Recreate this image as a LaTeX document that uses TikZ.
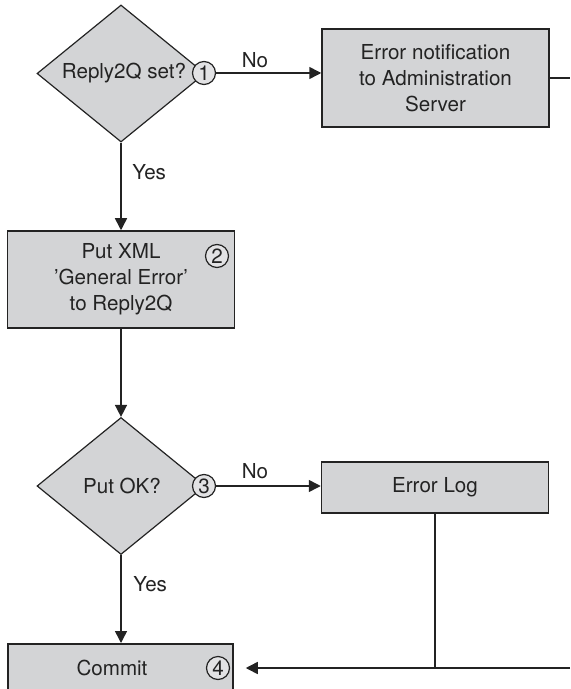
\documentclass[tikz,border=0pt]{standalone}
\usepackage{fontspec}
\setmainfont{TeX Gyre Heros}
\usetikzlibrary{shapes.geometric,arrows.meta,calc}
\definecolor{boxfill}{RGB}{211,212,214}
\definecolor{circfill}{RGB}{226,226,228}
\definecolor{ink}{RGB}{35,35,35}
\tikzset{
  every node/.style={font=\fontsize{10.3}{13}\selectfont, text=ink},
  stepbox/.style={draw=ink, line width=0.75pt, fill=boxfill, rectangle, inner sep=0pt, align=center},
  decision/.style={draw=ink, line width=0.6pt, fill=boxfill, diamond, inner sep=0pt, aspect=1.226, minimum width=84pt, minimum height=68.5pt},
  numcirc/.style={draw=ink, line width=0.6pt, fill=circfill, circle, inner sep=0pt, minimum size=11.5pt},
  conn/.style={draw=ink, line width=0.75pt},
  arr/.style={conn, -{Triangle[length=6pt,width=6pt]}},
  lbl/.style={inner sep=0pt}
}
\begin{document}
\begin{tikzpicture}[x=0.5pt,y=-0.5pt]
\useasboundingbox (0,0) rectangle (570,689);
\begin{scope}
\clip (0,0) rectangle (570,689);
% nodes
\node[decision] (d1) at (121,73.5) {};
\node at (124,73) (t1) {Reply2Q set?};
\node[numcirc] (c1) at (204,73) {1};
\node[stepbox, minimum width=113.5pt, minimum height=49pt] (b1) at (435.5,78) {Error notification\\to Administration\\Server};
\node[stepbox, minimum width=113.5pt, minimum height=48.5pt] (b2) at (121,279.5) {Put XML\\'General Error'\\to Reply2Q};
\node[numcirc] (c2) at (217,256) {2};
\node[decision] (d2) at (121,486) {};
\node at (122,486) (t2) {Put OK?};
\node[numcirc] (c3) at (204,486) {3};
\node[stepbox, minimum width=113.5pt, minimum height=25.5pt] (b3) at (435,487.5) {Error Log};
\node[stepbox, minimum width=112.5pt, minimum height=25pt, anchor=north] (b4) at (120.5,643) {};
\node at (112,668) (t4) {Commit};
\node[numcirc] (c4) at (218,668) {4};
% coordinates
\coordinate (r1) at (570,78);
\coordinate (r2) at (570,668);
\coordinate (j) at (b3.south |- r2);
% connectors
\draw[arr] (c1.east) -- (c1.east -| b1.west);
\draw[conn] (b1.east) -- (r1);
\draw[arr] (d1.south) -- (d1.south |- b2.north);
\draw[arr] (b2.south) -- (b2.south |- d2.north);
\draw[arr] (c3.east) -- (c3.east -| b3.west);
\draw[arr] (d2.south) -- (d2.south |- b4.north);
\draw[conn] (b3.south) -- (j);
\draw[arr, shorten >=6pt] (r2) -- (r2 -| b4.east);
% labels
\node[lbl] (n1) at (255,60) {No};
\node[lbl] (n2) at (255,471) {No};
\node[lbl, anchor=west] (y1) at (132,172) {Yes};
\node[lbl, anchor=west] (y2) at (133,584) {Yes};
\end{scope}
\end{tikzpicture}
\end{document}
